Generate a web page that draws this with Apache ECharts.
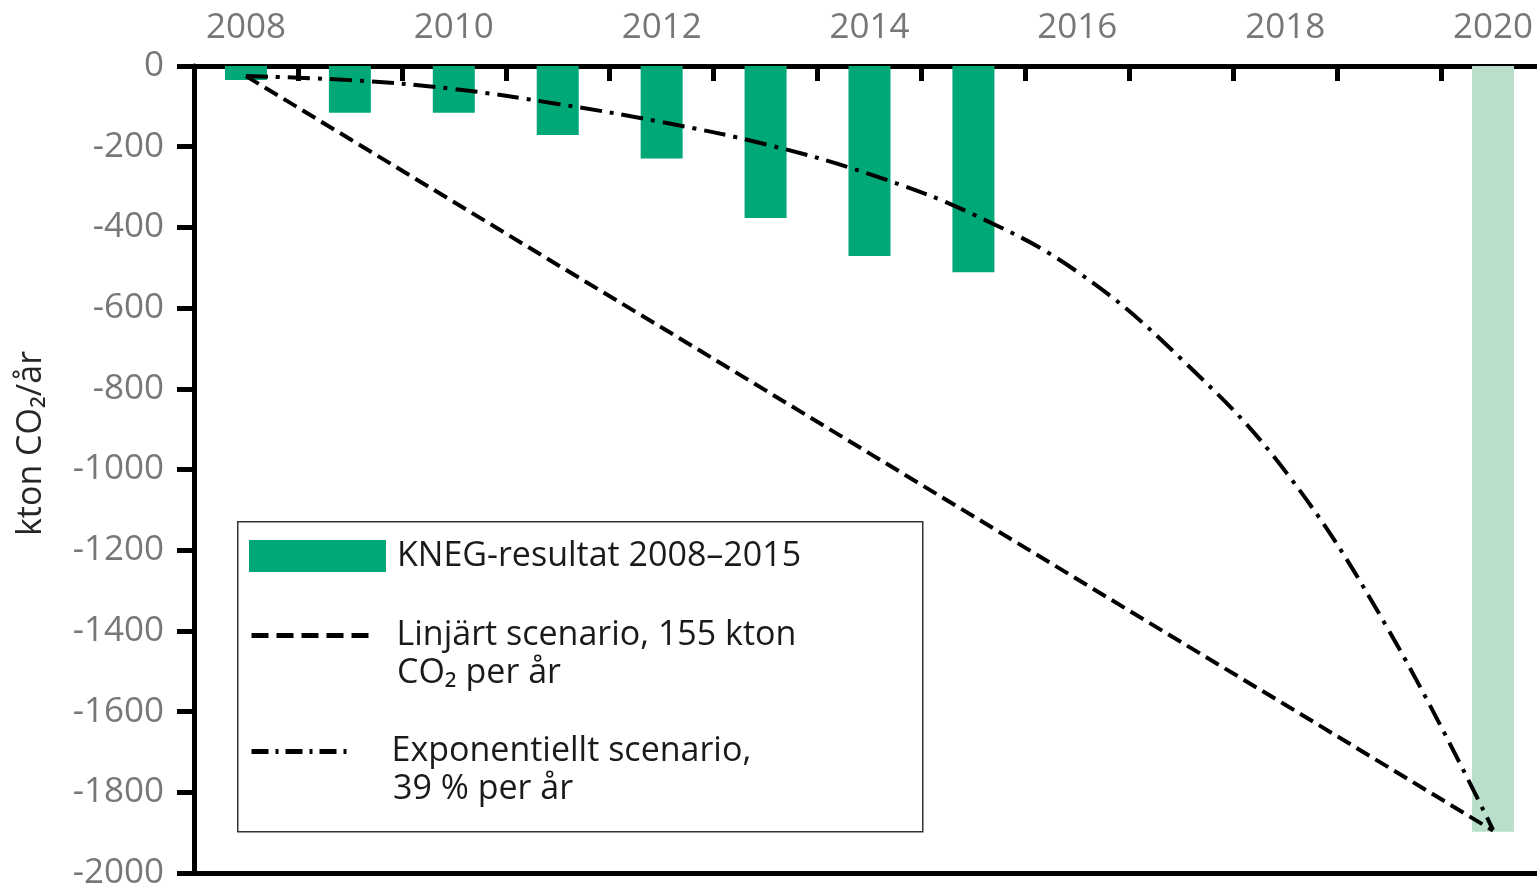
<!DOCTYPE html>
<html>
<head>
<meta charset="utf-8">
<script src="https://cdn.jsdelivr.net/npm/echarts@6/dist/echarts.min.js"></script>
<style>
html,body{margin:0;padding:0;background:#fff;}
#chart{width:1537px;height:889px;}
</style>
</head>
<body>
<div id="chart"></div>
<script>
const years = ['2008','2009','2010','2011','2012','2013','2014','2015','2016','2017','2018','2019','2020'];
const knegResults = [-35, -116, -116, -171, -229, -377, -471, -511, null, null, null, null, null];
const target2020 = [null, null, null, null, null, null, null, null, null, null, null, null, -1898];
const linearScenario = [-25, -181, -337, -493, -648, -804, -960, -1116, -1272, -1428, -1583, -1739, -1895];
const exponentialScenario = [-25, -35, -57, -94, -139, -194, -268, -368, -510, -726, -1004, -1400, -1893];

const knegName = 'KNEG-resultat 2008–2015';
const linearLines = ['Linjärt scenario, 155 kton', 'CO₂ per år'];
const expLines = ['Exponentiellt scenario,', '39 % per år'];
const yAxisTitle = 'kton CO₂/år';

const FONT = '"Open Sans", "Noto Sans", sans-serif';
const chart = echarts.init(document.getElementById('chart'), null, {renderer: 'canvas'});

const legendText = {fontSize: 34, color: '#1a1a1a', fontFamily: FONT};

chart.setOption({
  animation: false,
  backgroundColor: '#ffffff',
  grid: {left: 194, top: 66, width: 1351, height: 807, outerBoundsMode: 'none', containLabel: false},
  xAxis: [
    {
      type: 'category', position: 'top', data: years, boundaryGap: true,
      axisLine: {show: true, lineStyle: {color: '#000', width: 5}},
      axisTick: {show: true, inside: true, length: 15, interval: 0, lineStyle: {color: '#000', width: 5}},
      axisLabel: {interval: 1, fontSize: 35, color: '#777777', fontFamily: FONT, margin: 20},
      splitLine: {show: false}
    },
    {
      type: 'category', position: 'bottom', data: years, boundaryGap: true,
      axisLine: {show: true, lineStyle: {color: '#000', width: 5}},
      axisTick: {show: false}, axisLabel: {show: false}, splitLine: {show: false}
    }
  ],
  yAxis: {
    type: 'value', min: -2000, max: 0, interval: 200,
    name: yAxisTitle, nameLocation: 'middle', nameGap: 146, nameRotate: 90,
    nameTextStyle: {fontSize: 34, color: '#262626', fontFamily: FONT, padding: [0, 0, 0, 52]},
    axisLine: {show: true, lineStyle: {color: '#000', width: 5}},
    axisTick: {show: true, length: 17, lineStyle: {color: '#000', width: 5}},
    axisLabel: {
      fontSize: 35, color: '#777777', fontFamily: FONT, margin: 30,
      formatter: function (v) { return String(v); }
    },
    splitLine: {show: false}
  },
  legend: [
    {
      data: [{name: knegName, icon: 'rect'}], left: 249, top: 539, padding: 0,
      itemWidth: 137, itemHeight: 32, selectedMode: false,
      textStyle: Object.assign({lineHeight: 32, padding: [0, 0, 0, 6]}, legendText)
    },
    {
      data: [linearLines.join(' ')], left: 249, top: 605, padding: 0,
      itemWidth: 119, itemHeight: 14, selectedMode: false,
      formatter: function () { return linearLines[0]; },
      itemStyle: {opacity: 0},
      lineStyle: {width: 5, type: [17, 8], cap: 'butt', color: '#000'},
      textStyle: Object.assign({lineHeight: 45, padding: [0, 0, 16, 21]}, legendText)
    },
    {
      data: [expLines.join(' ')], left: 249, top: 721, padding: 0,
      itemWidth: 101, itemHeight: 14, selectedMode: false,
      formatter: function () { return expLines[0]; },
      itemStyle: {opacity: 0},
      lineStyle: {width: 5, type: [17, 7, 3, 7], cap: 'butt', color: '#000'},
      textStyle: Object.assign({lineHeight: 45, padding: [0, 0, 16, 34]}, legendText)
    }
  ],
  graphic: [
    {
      type: 'rect', left: 237, top: 521, z: 0,
      shape: {width: 685, height: 310},
      style: {fill: '#fff', stroke: '#333', lineWidth: 1.5}
    },
    {
      type: 'text', x: 397, y: 673, z: 10,
      style: {text: linearLines[1], fill: '#1a1a1a', font: '34px ' + FONT, verticalAlign: 'middle'}
    },
    {
      type: 'text', x: 393, y: 789, z: 10,
      style: {text: expLines[1], fill: '#1a1a1a', font: '34px ' + FONT, verticalAlign: 'middle'}
    }
  ],
  series: [
    {
      name: knegName, type: 'bar', data: knegResults, barWidth: 42,
      itemStyle: {color: '#00a878'}, z: 2
    },
    {
      name: 'Mål 2020', type: 'bar', data: target2020, barWidth: 42, barGap: '-100%',
      itemStyle: {color: '#b9dfca'}, z: 2
    },
    {
      name: linearLines.join(' '), type: 'line', data: linearScenario, symbol: 'none', color: '#000',
      itemStyle: {color: '#000'},
      lineStyle: {color: '#000', width: 4, type: [15, 7], cap: 'butt'}, z: 3
    },
    {
      name: expLines.join(' '), type: 'line', data: exponentialScenario, symbol: 'none', smooth: 0.4, color: '#000',
      itemStyle: {color: '#000'},
      lineStyle: {color: '#000', width: 4, type: [22, 8, 4, 8], cap: 'butt'}, z: 3
    }
  ]
});
</script>
</body>
</html>
